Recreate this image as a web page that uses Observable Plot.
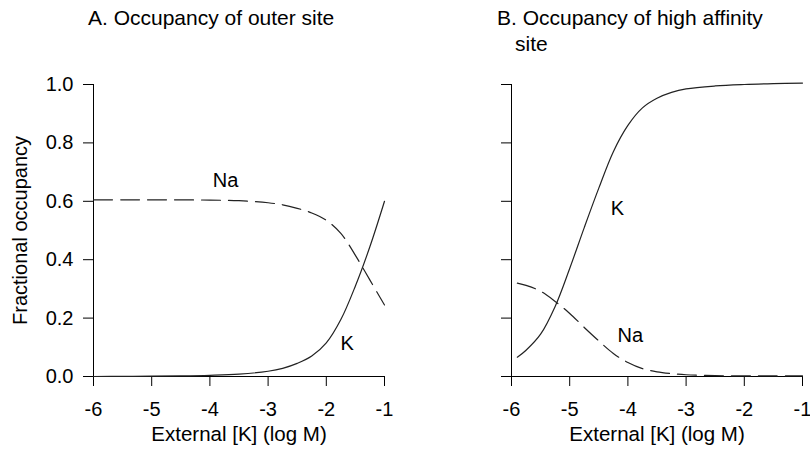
<!DOCTYPE html>
<html>
<head>
<meta charset="utf-8">
<script src="https://cdn.jsdelivr.net/npm/d3@7"></script>
<script src="https://cdn.jsdelivr.net/npm/@observablehq/plot@0.6"></script>
<style>
  html, body { margin: 0; padding: 0; background: #fff; }
  #wrap { position: relative; width: 810px; height: 454px; font-family: "Liberation Sans", Arial, sans-serif; color: #000; }
  .panel { position: absolute; top: 0; }
  .title { position: absolute; font-size: 21px; line-height: 26px; white-space: nowrap; }
</style>
</head>
<body>
<div id="wrap">
  <div class="title" style="left:88px; top:5px;">A. Occupancy of outer site</div>
  <div class="title" style="left:497px; top:5px;">B. Occupancy of high affinity<br><span style="padding-left:18px">site</span></div>
  <div class="panel" id="pA" style="left:0px"></div>
  <div class="panel" id="pB" style="left:405px"></div>
</div>
<script>
// ---- data ----
const xTicks = [-6, -5, -4, -3, -2, -1];
const yTicks = [0, 0.2, 0.4, 0.6, 0.8, 1.0];

// Panel A: outer site
const logKA = [-6, -5.5, -5, -4.5, -4, -3.5, -3, -2.75, -2.5, -2.25, -2, -1.75, -1.5, -1.25, -1];
const kOccA = [0, 0.0005, 0.001, 0.002, 0.004, 0.008, 0.018, 0.028, 0.045, 0.07, 0.115, 0.195, 0.31, 0.445, 0.60];
const naOccA = [0.605, 0.605, 0.605, 0.605, 0.604, 0.602, 0.595, 0.588, 0.576, 0.56, 0.535, 0.49, 0.415, 0.33, 0.245];

// Panel B: high affinity site
const logKB = [-5.9, -5.75, -5.5, -5.25, -5, -4.75, -4.5, -4.25, -4, -3.75, -3.5, -3.25, -3, -2.5, -2, -1.5, -1];
const kOccB = [0.066, 0.09, 0.145, 0.24, 0.37, 0.51, 0.645, 0.77, 0.86, 0.92, 0.953, 0.973, 0.985, 0.995, 1.0, 1.003, 1.005];
const naOccB = [0.32, 0.312, 0.292, 0.257, 0.216, 0.168, 0.122, 0.079, 0.048, 0.027, 0.016, 0.01, 0.006, 0.003, 0.002, 0.002, 0.002];

// curve labels (data coordinates)
const labelsA = [{t: "Na", x: -3.73, y: 0.672}, {t: "K", x: -1.64, y: 0.113}];
const labelsB = [{t: "K", x: -4.18, y: 0.576}, {t: "Na", x: -3.96, y: 0.141}];

const xLabel = "External [K] (log M)";
const yLabel = "Fractional occupancy";

function toRows(xs, ys) { return xs.map((x, i) => ({x, y: ys[i]})); }

function panel({xs, k, na, labels, marginLeft, marginRight, showY}) {
  const font = "Liberation Sans, Arial, sans-serif";
  const marks = [
    Plot.ruleX([-6], {stroke: "#000", strokeWidth: 1}),
    Plot.ruleY([0], {stroke: "#000", strokeWidth: 1}),
    Plot.axisX({ticks: xTicks, tickSize: 10, tickPadding: 15, tickFormat: d => String(d), fontSize: 20, label: null, stroke: "#000"}),
    Plot.axisY({ticks: yTicks, tickSize: 10, tickPadding: 10, tickFormat: showY ? d3.format(".1f") : () => "", fontSize: 20, label: null, stroke: "#000"}),
    Plot.line(toRows(xs, na), {x: "x", y: "y", stroke: "#222", strokeWidth: 1.2, strokeDasharray: "19,8", curve: "catmull-rom"}),
    Plot.line(toRows(xs, k), {x: "x", y: "y", stroke: "#222", strokeWidth: 1.2, curve: "catmull-rom"}),
    Plot.text(labels, {x: "x", y: "y", text: "t", fontSize: 20, fill: "#000"}),
    Plot.text([xLabel], {frameAnchor: "bottom", textAnchor: "middle", dy: 64, fontSize: 20.5, fill: "#000"})
  ];
  if (showY) marks.push(Plot.text([yLabel], {frameAnchor: "left", textAnchor: "middle", dx: -73, rotate: -90, fontSize: 20, fill: "#000"}));
  return Plot.plot({
    width: 405,
    height: 454,
    marginLeft, marginRight,
    marginTop: 84,
    marginBottom: 78,
    x: {domain: [-6, -1]},
    y: {domain: [0, 1]},
    style: {fontFamily: font, fontSize: "20px", color: "#000", background: "transparent", overflow: "visible"},
    marks
  });
}

document.getElementById("pA").appendChild(panel({xs: logKA, k: kOccA, na: naOccA, labels: labelsA, marginLeft: 93, marginRight: 21, showY: true}));
document.getElementById("pB").appendChild(panel({xs: logKB, k: kOccB, na: naOccB, labels: labelsB, marginLeft: 106, marginRight: 8, showY: false}));
</script>
</body>
</html>
